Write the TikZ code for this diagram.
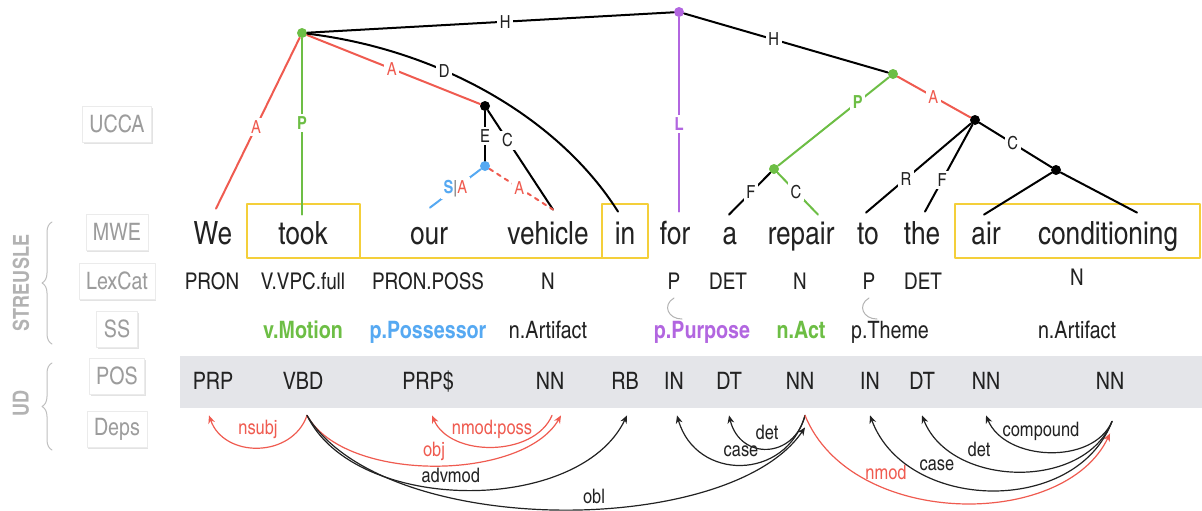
\documentclass[tikz,border=0pt]{standalone}
\usepackage{fontspec}
\setmainfont{texgyreheroscn}[Extension=.otf,UprightFont=*-regular,BoldFont=*-bold,ItalicFont=*-italic,BoldItalicFont=*-bolditalic]
\usepackage{xcolor}
\usepackage{tikz}
\usetikzlibrary{positioning,calc,arrows.meta,decorations.pathreplacing,shadows}

\definecolor{ink}{HTML}{222222}
\definecolor{ucRed}{HTML}{EF5B50}
\definecolor{ucGreen}{HTML}{6DBE45}
\definecolor{ucPurple}{HTML}{B266E0}
\definecolor{ucBlue}{HTML}{56A9F2}
\definecolor{mweYellow}{HTML}{F4CF3A}
\definecolor{bandGray}{HTML}{E4E5E9}
\definecolor{rowGray}{HTML}{9C9C9C}

\begin{document}
\begin{tikzpicture}[
					x=0.5pt,y=-0.5pt,
					>={Stealth[length=4pt,width=3.4pt]},
					line cap=round,line join=round,
					word/.style={anchor=base,inner sep=0pt,text height=12pt,text depth=3.5pt,text=ink,font=\fontsize{16}{18}\selectfont},
					lex/.style={anchor=base,inner sep=0pt,text=ink,font=\fontsize{11.5}{13}\selectfont},
					ss/.style={anchor=base,inner sep=0pt,text=ink,font=\fontsize{12}{14}\selectfont},
					ssb/.style={ss,font=\fontsize{12}{14}\selectfont\bfseries},
					postag/.style={anchor=base,inner sep=0pt,text height=8.5pt,text depth=13pt,text=ink,font=\fontsize{12}{14}\selectfont},
					rowlab/.style={fill=white,draw=black!8,text=rowGray,inner xsep=3.5pt,minimum height=18pt,
						font=\fontsize{12}{14}\selectfont,drop shadow={shadow xshift=0.7pt,shadow yshift=-0.9pt,opacity=0.22}},
					grp/.style={draw=black!25,line width=0.5pt,decorate,decoration={brace,amplitude=5pt}},
					grplab/.style={rotate=90,text=black!30,font=\fontsize{11}{13}\selectfont\bfseries},
					mwe/.style={draw=mweYellow,line width=1.3pt},
					unode/.style={circle,inner sep=0pt,minimum size=5pt},
					uedge/.style={line width=1pt},
					lab/.style={fill=white,inner sep=1.3pt,text=ink,font=\fontsize{9}{10}\selectfont},
					labb/.style={lab,font=\fontsize{9}{10}\selectfont\bfseries},
					dep/.style={->,line width=0.6pt},
					deplab/.style={anchor=south,yshift=3pt,inner sep=1pt,font=\fontsize{10}{11}\selectfont},
					tick/.style={draw=black!30,line width=0.5pt}
					]
					%----- parameters
					\def\yMWE{244}
					\def\yLex{289}
					\def\ySS{338}
					\def\yPOS{389}
					
					\useasboundingbox (0,0) rectangle (1202,510);
					
					%----- row labels and groups
					\node[rowlab] (rUCCA) at (117,124) {UCCA};
					\node[rowlab] (rMWE) at (117,232) {MWE};
					\node[rowlab] (rLex) at (117,281) {LexCat};
					\node[rowlab] (rSS) at (117,329) {SS};
					\node[rowlab] (rPOS) at (117,376) {POS};
					\node[rowlab] (rDeps) at (117,429) {Deps};
					
					\draw[grp] (52,344) -- (52,222);
					\draw[grp] (52,450) -- (52,363);
					\node[grplab] (gStr) at (21,283) {STREUSLE};
					\node[grplab] (gUD) at (21,403) {UD};
					
					%----- POS band
					\fill[bandGray] (180,356) rectangle (1202,408);
					
					%----- MWE boxes
					\draw[mwe] (247,204) rectangle (360,258);
					\draw[mwe] (602,204) rectangle (648,258);
					\draw[mwe] (360,258) -- (602,258);
					\draw[mwe] (955,204) rectangle (1200,258);
					
					%----- words
					\foreach \nm/\x/\t in {wWe/213/We,wTook/303/took,wOur/429/our,wVeh/548/vehicle,
						wIn/625/in,wFor/675/for,wA/730/a,wRepair/801/repair,wTo/868/to,wThe/922/the,
						wAir/986/air,wCond/1108/conditioning}
					\node[word] (\nm) at (\x,\yMWE) {\t};
					
					%----- lexcat
					\foreach \nm/\x/\t in {lPRON/212/PRON,lVPC/303/V.VPC.full,lPOSS/428/PRON.POSS,lNa/548/N,
						lPa/674/P,lDETa/728/DET,lNb/800/N,lPb/869/P,lDETb/923/DET}
					\node[lex] (\nm) at (\x,\yLex) {\t};
					\node[lex] (lNc) at (1077,285) {N};
					
					\foreach \n in {lPa,lPb}
					\draw[tick] ($(\n.base)+(0,9)$) .. controls +(-12,7) and +(-14,0) .. ($(\n.base)+(8,30)$);
					
					%----- supersenses
					\node[ssb,text=ucGreen] (sMotion) at (303,\ySS) {v.Motion};
					\node[ssb,text=ucBlue] (sPoss) at (428,\ySS) {p.Possessor};
					\node[ss] (sArtA) at (548,\ySS) {n.Artifact};
					\node[ssb,text=ucPurple] (sPurp) at (702,\ySS) {p.Purpose};
					\node[ssb,text=ucGreen] (sAct) at (801,\ySS) {n.Act};
					\node[ss] (sTheme) at (890,\ySS) {p.Theme};
					\node[ss] (sArtB) at (1077,\ySS) {n.Artifact};
					
					%----- POS tags
					\foreach \nm/\x/\t in {pPRP/213/PRP,pVBD/303/VBD,pPRPS/428/PRP\$,pNNa/550/NN,pRB/625/RB,
						pINa/674/IN,pDTa/729/DT,pNNb/800/NN,pINb/870/IN,pDTb/922/DT,pNNc/986/NN,pNNd/1110/NN}
					\node[postag] (\nm) at (\x,\yPOS) {\t};
					
					%===== UCCA graph
					\node[unode,fill=ucGreen] (nTook) at (302,33) {};
					\node[unode,fill=ucPurple] (nRoot) at (679,12) {};
					\node[unode,fill=black] (nVeh) at (485,106) {};
					\node[unode,fill=ucBlue] (nOur) at (485,166) {};
					\node[unode,fill=ucGreen] (nRep) at (893,74) {};
					\node[unode,fill=ucGreen] (nAct) at (774,169) {};
					\node[unode,fill=black] (nAC) at (975,120) {};
					\node[unode,fill=black] (nCond) at (1056,170) {};
					
					% ends above the words
					\coordinate (tWe) at ($(wWe.north)+(3,-11)$);
					\coordinate (tTook) at ($(wTook.north)+(-1,-5)$);
					\coordinate (tOur) at ($(wOur.north)+(1,-12)$);
					\coordinate (tVeh) at ($(wVeh.north)+(5,-10)$);
					\coordinate (tIn) at ($(wIn.north)+(-7,-8)$);
					\coordinate (tFor) at ($(wFor.north)+(4,-8)$);
					\coordinate (tA) at ($(wA.north)+(-1,-5)$);
					\coordinate (tRepair) at ($(wRepair.north)+(17,-5)$);
					\coordinate (tTo) at ($(wTo.north)+(-2,-7)$);
					\coordinate (tThe) at ($(wThe.north)+(3,-8)$);
					\coordinate (tAir) at ($(wAir.north)+(-2,-5)$);
					\coordinate (tCond) at ($(wCond.north)+(29,-7)$);
					
					\draw[uedge] (nTook) -- node[lab,pos=0.54]{H} (nRoot);
					\draw[uedge,ucRed] (nTook) -- node[lab,pos=0.52,text=ucRed]{A} (tWe);
					\draw[uedge,ucGreen] (nTook) -- node[labb,pos=0.48,text=ucGreen]{P} (tTook);
					\draw[uedge,ucRed] (nTook) -- node[lab,pos=0.49,text=ucRed]{A} (nVeh);
					\draw[uedge] (nTook) .. controls +(140,17) and +(-58,-92) .. node[lab,pos=0.36]{D} (tIn);
					\draw[uedge] (nVeh) -- node[lab,pos=0.5]{E} (nOur);
					\draw[uedge] (nVeh) -- node[lab,pos=0.3]{C} (tVeh);
					\draw[uedge,ucBlue] (nOur) -- node[lab,pos=0.5]{{\bfseries\color{ucBlue}S}{\color{ink!70}|}{\color{ucRed}A}} (tOur);
					\draw[uedge,ucRed,dash pattern=on 2pt off 2.5pt] (nOur) -- node[lab,pos=0.47,text=ucRed]{A} (tVeh);
					\draw[uedge,ucPurple] (nRoot) -- node[labb,pos=0.55,text=ucPurple]{L} (tFor);
					\draw[uedge] (nRoot) -- node[lab,pos=0.44]{H} (nRep);
					\draw[uedge,ucGreen] (nRep) -- node[labb,pos=0.28,text=ucGreen]{P} (nAct);
					\draw[uedge,ucRed] (nRep) -- node[lab,pos=0.49,text=ucRed]{A} (nAC);
					\draw[uedge] (nAct) -- node[lab,pos=0.47]{F} (tA);
					\draw[uedge,ucGreen] (nAct) -- node[lab,pos=0.45]{C} (tRepair);
					\draw[uedge] (nAC) -- node[lab,pos=0.62]{R} (tTo);
					\draw[uedge] (nAC) -- node[lab,pos=0.64]{F} (tThe);
					\draw[uedge] (nAC) -- node[lab,pos=0.46]{C} (nCond);
					\draw[uedge] (nCond) -- (tAir);
					\draw[uedge] (nCond) -- (tCond);
					
					%===== dependencies
					\draw[dep,ucRed] ([xshift=2pt]pVBD.south) .. controls +(-15,43) and +(15,43) .. node[deplab,pos=0.5]{nsubj} ([xshift=-2pt]pPRP.south);
					\draw[dep,ucRed] ([xshift=2pt]pVBD.south) .. controls +(38,68) and +(-38,66) .. node[deplab,pos=0.5,yshift=-2pt]{obj} ([xshift=5.5pt]pNNa.south);
					\draw[dep,ucRed] ([xshift=1pt]pNNa.south) .. controls +(-18,42) and +(18,42) .. node[deplab,pos=0.5]{nmod:poss} ([xshift=2pt]pPRPS.south);
					\draw[dep,ink] ([xshift=2pt]pVBD.south) .. controls +(48,99) and +(-48,100) .. node[deplab,pos=0.46,yshift=-1pt]{advmod} ([xshift=1pt]pRB.south);
					\draw[dep,ink] ([xshift=2pt]pVBD.south) .. controls +(75,124) and +(-75,111) .. node[deplab,pos=0.56,yshift=-2pt]{obl} ([xshift=2.5pt,yshift=-6pt]pNNb.south);
					\draw[dep,ink] ([xshift=2.5pt]pNNb.south) .. controls +(-19,66) and +(19,66) .. node[deplab,pos=0.5]{case} ([xshift=1.5pt]pINa.south);
					\draw[dep,ink] ([xshift=2.5pt]pNNb.south) .. controls +(-11,44) and +(11,45) .. node[deplab,pos=0.5]{det} (pDTa.south);
					\draw[dep,ucRed] ([xshift=2.5pt]pNNb.south) .. controls +(46,113) and +(-46,97) .. node[deplab,pos=0.31]{nmod} ([yshift=-9pt]pNNd.south);
					\draw[dep,ink] ([xshift=1pt,yshift=-3pt]pNNd.south) .. controls +(-36,95) and +(36,97) .. node[deplab,pos=0.68]{case} (pINb.south);
					\draw[dep,ink] ([xshift=1pt,yshift=-3pt]pNNd.south) .. controls +(-28,70) and +(28,72) .. node[deplab,pos=0.66]{det} (pDTb.south);
					\draw[dep,ink] ([xshift=1pt,yshift=-3pt]pNNd.south) .. controls +(-19,44) and +(19,46) .. node[deplab,pos=0.55,yshift=1pt]{compound} (pNNc.south);
					
				\end{tikzpicture}
\end{document}
